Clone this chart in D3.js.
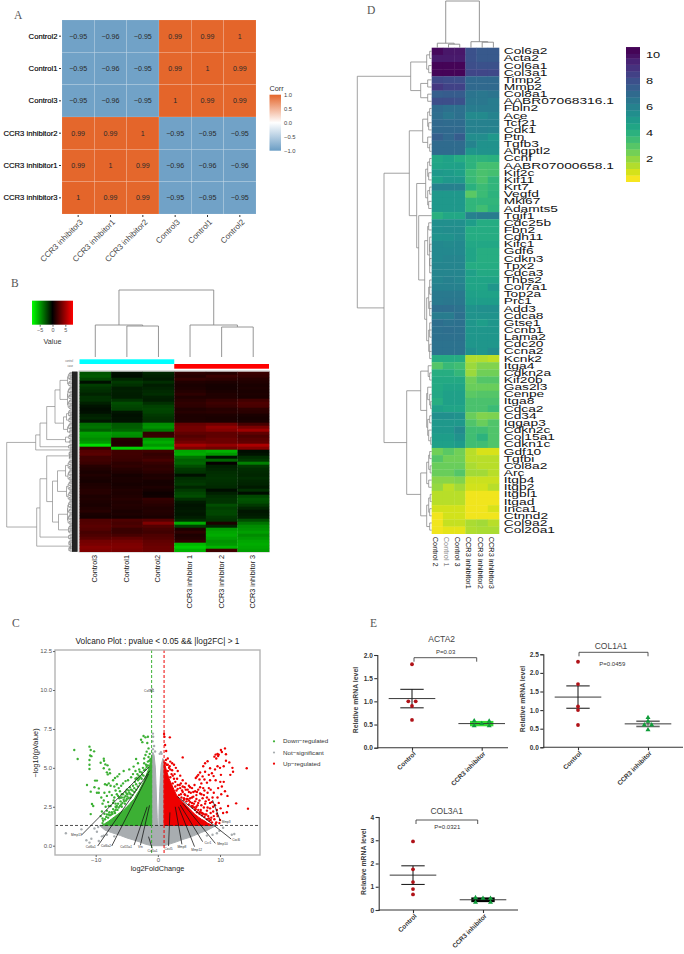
<!DOCTYPE html>
<html>
<head>
<meta charset="utf-8">
<script src="https://cdn.jsdelivr.net/npm/d3@7"></script>
<style>
  body { margin: 0; background: #fff; }
  text { font-family: "Liberation Sans", Arial, sans-serif; }
</style>
</head>
<body>
<svg id="svg" width="684" height="954"></svg>
<script>
// ---------- panel A data ----------
const corrRows = ["Control2", "Control1", "Control3", "CCR3 inhibitor2", "CCR3 inhibitor1", "CCR3 inhibitor3"];
const corrCols = ["CCR3 inhibitor3", "CCR3 inhibitor1", "CCR3 inhibitor2", "Control3", "Control1", "Control2"];
const corrValues = [
  [-0.95, -0.96, -0.95, 0.99, 0.99, 1],
  [-0.95, -0.96, -0.95, 0.99, 1, 0.99],
  [-0.95, -0.96, -0.95, 1, 0.99, 0.99],
  [0.99, 0.99, 1, -0.95, -0.95, -0.95],
  [0.99, 1, 0.99, -0.96, -0.96, -0.96],
  [1, 0.99, 0.99, -0.95, -0.95, -0.95]
];
const corrTicks = [-1, -0.5, 0, 0.5, 1];

// ---------- panel B data ----------
const exprCols = ["Control3", "Control1", "Control2", "CCR3 inhibitor 1", "CCR3 inhibitor 2", "CCR3 inhibitor 3"];
const exprValues = [
  [-2.6,-0.5,-1.2,1.4,1.2,1.8],[-2.8,-0.4,-1.0,1.2,1.8,1.6],[-2.2,-1.2,-0.8,1.6,1.4,1.2],[-0.5,-1.8,-1.4,1.0,0.9,1.0],
  [-1.9,-1.5,-0.9,0.8,0.7,0.8],[-1.6,-0.9,-1.1,0.9,0.7,0.9],[-1.4,-1.0,-1.3,1.1,0.8,0.8],[-1.1,-0.9,-1.4,1.4,1.0,0.9],
  [-1.5,-0.9,-1.0,1.0,1.0,0.8],[-1.5,-1.6,-0.9,1.3,1.6,2.0],[-1.0,-2.4,-1.5,1.5,1.9,2.4],[-0.6,-2.2,-2.0,1.4,1.7,2.3],
  [-0.4,-2.0,-2.2,1.0,1.2,1.4],[-0.5,-0.7,-2.1,1.2,1.3,1.3],[-1.0,-0.5,-1.8,0.9,0.9,0.8],[-1.2,-0.6,-1.6,0.9,0.8,0.7],
  [-0.7,-0.6,-1.5,1.0,0.9,0.8],[-3.4,-2.8,-4.4,3.2,3.5,2.2],[-3.6,-2.9,-4.6,3.6,4.6,3.8],[-3.0,-3.2,-3.8,3.6,4.2,5.0],
  [-5.0,-4.6,1.6,3.0,3.0,3.0],[-4.8,-4.4,1.8,2.6,3.0,2.4],[-4.4,1.2,-4.8,3.0,3.4,2.8],[-4.8,1.0,-5.4,3.6,3.4,3.0],
  [-7.0,1.1,-4.8,5.2,4.6,5.4],[1.8,-6.6,-6.0,4.0,3.6,4.2],[2.6,2.0,2.0,-5.2,-5.6,-0.4],[2.8,2.0,1.6,-5.4,-4.8,-0.6],
  [2.0,1.9,1.8,-3.6,-0.6,-1.4],[2.0,1.8,2.2,-3.0,-3.2,-1.8],[1.8,1.4,1.7,-3.2,0.2,-4.0],[1.2,1.5,1.4,-2.4,-1.0,-1.8],
  [1.0,1.2,1.5,-1.8,-1.2,-1.4],[0.8,1.0,1.3,-1.6,-1.4,-1.3],[1.0,0.7,0.9,-0.5,-1.5,-1.2],[0.8,0.8,1.0,-1.4,-1.6,-1.4],
  [0.7,0.8,0.7,-1.6,-1.5,-1.2],[0.9,0.7,0.7,-1.8,-1.4,-1.1],[1.0,0.8,0.9,-1.2,-1.3,-0.8],[1.2,1.0,0.7,-1.8,-0.4,-1.5],
  [1.2,0.9,0.4,-2.2,-1.0,-0.4],[0.9,1.0,0.5,-2.4,-1.4,-2.2],[1.0,1.2,1.6,-1.5,-1.6,-2.6],[0.9,1.0,1.4,-0.8,-1.6,-2.4],
  [0.8,1.1,1.2,-0.6,-2.4,-1.8],[1.0,1.0,1.0,-0.7,-2.0,-1.2],[1.2,0.8,1.1,-0.8,-2.2,-0.7],[0.8,0.9,1.0,-0.7,-2.2,-0.8],
  [0.7,0.7,0.8,-0.9,-1.8,-1.0],[2.5,2.4,2.6,-1.4,-1.6,-2.4],[2.6,2.2,4.0,-5.4,0.9,-3.6],[2.8,2.4,2.6,-2.0,-1.2,-4.4],
  [2.6,1.8,2.2,0.9,-4.8,-4.6],[2.2,1.8,2.0,1.4,-5.2,-5.0],[2.4,2.2,2.4,0.9,-5.4,-4.4],[2.8,3.0,2.6,1.1,-5.0,-4.8],
  [3.6,3.6,3.0,1.6,-4.6,-5.2],[3.8,3.9,3.2,-5.8,-4.8,-5.4],[4.2,4.0,3.4,-6.4,-5.6,-5.2],[4.0,3.8,3.4,-5.6,2.0,-5.0]
];
const exprTicks = [-5, 0, 5];
const exprGroups = ["control", "case"];
// dendrograms: [merge height, left, right]; a plain number is a tuft of that many leaves
const exprColTree = [67, [32, 1, [31, 1, 1]], [32, 1, [30, 1, 1]]];
const exprRowTree = [70.8,
  [41.8,
    [37.5,
      [30.8,
        [22.5, [17.5, 30, [10, 25, 20]], [14, [11, 15, 12], [10, 14, 8]]],
        [12, 12, 8]],
      [9, 6, 4]],
    4],
  [40.8,
    [37.5,
      [30.8,
        [8, 10, 8],
        [25, [20, [12, 20, 22], [11, 20, 20]], [19, [10, 26, 22], [9, 10, 8]]]],
      [9, 6, 6]],
    [7, 12, 12]]
];

// ---------- panel C data ----------
const volcanoXTicks = [-10, 0, 10];
const volcanoYTicks = [0, 2.5, 5, 7.5, 10, 12.5];
const volcanoTypes = ["Down\u2212regulated", "Not\u2212significant", "Up\u2212regulated"];
// outlines of the solid parts of the cloud, [log2FC, -log10p]
const greenCloud = [[-1,1.3],[-1,5.8],[-1.3,5.2],[-1.6,4.8],[-2,4.4],[-2.3,4.1],[-2.7,3.8],[-3,3.55],[-3.4,3.3],[-3.8,3.0],[-4.2,2.85],[-4.6,2.65],[-5,2.5],[-5.5,2.3],[-6,2.15],[-6.5,2.0],[-7,1.85],[-7.5,1.7],[-8,1.55],[-8.6,1.4],[-9,1.3]];
const redCloud = [[1,1.3],[1,5.4],[1.4,4.8],[1.8,4.3],[2.2,3.95],[2.6,3.6],[3,3.25],[3.5,3.0],[4,2.8],[4.5,2.6],[5,2.4],[5.5,2.2],[6,2.0],[6.5,1.85],[7,1.7],[7.5,1.6],[8,1.45],[8.8,1.3]];
const grayCloud = [[-9.4,1.3],[-8.5,1.0],[-7.5,0.85],[-6,0.65],[-5,0.5],[-4,0.38],[-3,0.25],[-2,0.1],[-1,0],[1,0],[2,0.12],[3,0.25],[4,0.4],[5,0.52],[6,0.68],[7,0.85],[8,1.0],[9.4,1.3]];
const grayLobeLeft = [[-1,1.3],[-1,5.8],[-0.8,6.0],[-0.6,5.8],[-0.4,5.0],[-0.3,4],[-0.2,2.8],[-0.1,1.8],[-0.05,1.3]];
const grayLobeRight = [[0.15,1.3],[0.2,2.4],[0.3,3.5],[0.4,4.4],[0.55,5.2],[0.8,5.6],[0.95,5.5],[0.95,1.3]];
const downPoints = [
  [-13.45,6.15],[-12.9,5.57],[-11,6.36],[-10.8,6.15],[-10.26,6.06],[-10.9,5.8],[-10.7,5.75],[-11,5.5],[-11,5.2],[-11,4.93],
  [-11.4,3.9],[-10.8,3.47],[-10.6,2.68],[-10.4,2.55],[-10.8,2.03],[-10.1,4.18],[-9.8,4.18],[-10.2,3.75],[-9.5,3.68],[-9.8,3.4],
  [-9.5,3.4],[-9.2,5.33],[-8.7,5.59],[-8.66,5.46],[-8.44,5.22],[-8.1,5.16],[-8.7,4.97],[-7.8,4.9],[-8.2,4.71],[-7.7,4.65],
  [-8.06,4.58],[-8.5,3.95],[-8.2,3.9],[-7.9,4.0],[-7.6,3.85],[-7.2,4.2],[-6.9,4.35],[-6.5,4.45],[-6.2,4.6],[-7,3.8],
  [-6.6,3.95],[-6.3,3.7],[-5.9,3.85],[-5.6,4.0],[-5.2,4.15],[-5,3.6],[-8.6,3.4],[-8.2,3.2],[-7.8,3.45],[-7.4,3.25],
  [-7.0,3.1],[-6.6,3.3],[-6.2,3.05],[-5.8,3.3],[-5.4,3.1],[-4.9,3.3],[-8.9,2.7],[-8.4,2.5],[-8,2.8],[-7.6,2.55],
  [-7.2,2.75],[-6.8,2.5],[-6.4,2.7],[-9,2.2],[-8.6,2.05],[-8.2,2.25],[-7.8,2.15],[-9.2,1.9],[-8.9,1.75],[-7.4,2.15],
  [-6.8,2.3],[-5.9,2.65],[-5.4,2.85],[-5,3.0],[-4.4,3.3],[-4.1,3.55],[-3.8,3.7],[-3.5,3.95],[-4.7,3.55],[-3.2,4.2],
  [-3,4.3],[-3.3,4.6],[-3.6,4.8],[-3.9,5.08],[-3.2,5.3],[-3.5,5.57],[-2.9,4.75],[-2.6,4.7],[-2.4,5],[-2.2,5.3],
  [-2.2,5.6],[-1.99,5.83],[-1.8,6.04],[-1.5,6.25],[-1.7,6.6],[-2.5,6.65],[-2.7,6.8],[-2.3,7.05],[-2,6.96],[-1.6,7.0],
  [-1.5,5.7],[-1.3,5.9],[-1.9,5.2],[-1.6,5.4],[-5.5,4.8],[-4.6,4.9],[-6.8,3.55],[-5.2,3.45],
  [-8.8,1.6],[-8.5,1.7],[-8.3,1.85],[-8,1.8],[-7.9,2.0],[-7.7,1.95],[-7.5,2.0],[-7.3,2.05],[-7.2,2.35],[-7,2.2],
  [-6.9,2.1],[-6.7,2.45],[-6.5,2.3],[-6.3,2.45],[-6.1,2.55],[-6,2.85],[-5.8,2.5],[-5.7,2.75],[-5.5,2.95],[-5.3,2.7],
  [-5.2,3.2],[-5.1,2.9],[-4.9,3.15],[-4.7,3.05],[-4.6,3.4],[-4.4,3.1],[-4.3,3.6],[-4.1,3.25],[-4,3.85],[-3.8,3.45],
  [-3.7,4.1],[-3.5,3.6],[-3.4,4.35],[-3.2,3.8],[-3.1,4.5],[-2.9,4.0],[-2.8,4.4],[-2.6,4.3],[-2.5,4.55],[-2.3,4.5],
  [-2.2,4.85],[-2,4.9],[-1.8,5.05],[-1.6,5.15],[-1.4,5.45],[-1.2,5.55],[-8.9,1.45],[-8.2,2.0],[-6.8,2.7],[-6.6,2.55],
  [-6,3.1],[-5.6,3.3],[-5,3.35],[-4.5,3.75],[-7.9,2.55],[-7.1,2.9],[-6.4,3.2],[-6.1,3.5],[-8.7,2.9],[-9.1,3.1],
  [-5.8,3.1],[-4.8,4.2],[-4.3,4.4],[-4,4.6],[-3.6,4.3],[-3,4.9]
];
const upPoints = [
  [1.0,7.17],[1.07,6.99],[1.93,6.96],[1.17,6.47],[1.34,6.08],[4.0,5.67],[10.8,6.25],[10.15,6.15],[10.3,6.02],[9.6,5.9],
  [9.3,5.85],[9.8,5.85],[9.1,5.72],[9.7,5.76],[9.4,5.6],[10.96,5.87],[10.96,5.46],[11.5,5.35],[12,5.0],[12.1,4.75],
  [11.66,4.55],[14.3,4.97],[14.5,2.38],[12.6,2.72],[11.3,2.55],[11.1,2.15],[10.5,2.1],[10,1.65],[8,5.42],[7.6,5.3],
  [7.3,5.1],[6.8,4.7],[6.5,4.55],[6.3,4.45],[6.1,4.35],[7.2,4.45],[7.6,4.75],[8.4,4.97],[8.2,4.55],[8.7,4.65],
  [8.97,4.47],[10.15,4.55],[10.6,4.1],[10.3,3.8],[10.05,4.1],[6.7,4.25],[7,4.0],[7.5,4.25],[7.9,4.05],[8.4,4.2],
  [9.2,4.9],[9.6,5.1],[10,5.0],[10.6,5.1],[9.3,4.2],[9.7,3.7],[10.8,3.5],[11.2,3.2],[10.2,3.3],[9.6,3.1],
  [9,3.4],[8.5,3.6],[8,3.4],[7.5,3.55],[7,3.3],[6.5,3.6],[6,3.5],[5.5,3.7],[5,3.85],[4.5,4.0],
  [4,4.2],[3.6,4.5],[3.2,4.8],[2.9,5.0],[2.6,5.2],[2.3,5.3],[2,5.4],[1.6,5.6],[3.5,3.9],[3.9,3.55],
  [4.3,3.3],[4.8,3.2],[5.2,3.05],[5.7,3.15],[6.2,3.0],[6.7,2.9],[7.2,3.05],[7.7,2.85],[8.2,2.95],[8.7,2.8],
  [9.2,2.6],[9.5,2.3],[8.9,2.2],[8.4,2.4],[7.9,2.25],[7.4,2.45],[6.9,2.3],[6.4,2.6],[5.9,2.45],[5.5,2.75],
  [5,2.9],[4.6,3.0],[8.6,1.8],[8.1,1.9],[7.6,2.0],[7.1,2.1],[9.1,1.7],[9.6,1.9],[8.3,1.6],[9.4,1.5],
  [6.7,2.15],[6.1,2.35],[5.6,2.55],[3.2,3.65],[2.8,4.1],[2.4,4.5],[2,4.9],[1.6,5.2],[1.3,5.5],[4.2,3.05],
  [3.7,3.3],[5.3,3.4],[6.2,3.25],[7.3,3.7],[8.8,3.1],[9.8,2.75],[10.1,2.4],[8.2,3.7],[6.8,3.75],[5.9,3.9],
  [8.7,1.5],[8.5,1.65],[8.2,1.75],[7.9,1.7],[7.8,2.0],[7.5,1.85],[7.3,2.05],[7.1,1.95],[6.9,2.15],[6.7,2.05],
  [6.5,2.3],[6.3,2.15],[6.2,2.5],[6,2.3],[5.8,2.7],[5.6,2.45],[5.4,2.55],[5.2,2.8],[5,2.65],[4.8,3.0],
  [4.6,2.85],[4.4,3.25],[4.2,2.95],[4,3.45],[3.8,3.1],[3.6,3.7],[3.4,3.25],[3.2,3.9],[3,3.55],[2.8,3.8],
  [2.6,4.3],[2.4,4.0],[2.2,4.6],[2,4.4],[1.8,5.0],[1.6,4.8],[1.4,5.2],[1.2,5.3],[9.3,1.4],[9,1.9],
  [8.5,2.1],[8,2.45],[7.6,2.7],[7,2.6],[6.5,2.75],[6,2.85],[5.5,3.1],[5,3.45],[4.5,3.6],[4,3.8],
  [9.9,1.45],[9.5,2.05],[8.9,2.5],[8.4,2.75],[7.9,3.1],[7.4,3.25],[6.8,3.35],[6.3,3.45],[5.7,3.45],[5.2,3.75],
  [4.8,3.6],[4.3,3.75],[3.7,4.0],[3.1,4.3],[2.7,4.6],[2.3,4.85],[1.9,5.1]
];
const flatPoints = [
  [-0.8,7.2],[-0.75,7.0],[-0.85,6.7],[-0.6,6.4],[-0.8,6.2],[-0.45,6.05],[0.5,6],[0.6,5.9],[0.3,5.9],[-14.8,0.8],
  [-12.3,1.05],[-11.5,0.35],[-11,0.2],[-10.7,0.45],[-9.5,0.3],[-9,0.6],[-8.7,0.65],[-9.8,0.9],[11.9,0.7],[12.3,0.75],
  [-1.1,10.0],[-0.9,10.05],[10.5,1.15],[9.9,0.95],[9.5,0.8],[-10.2,1.1],[-9.6,1.2],[-8.2,0.7],[-7,0.6],[8.8,0.7],[7.9,0.65]
];
const geneNames = ["Mmp13", "Col6a1", "Col6a2", "Col15a1", "Vtn", "Col5a1", "Cxcl5", "Mmp8", "Mmp12", "Ccr1", "Mmp10", "Cxcl6", "Mmp3"];
const geneLabelX = [-13.1, -10.8, -8.33, -5.1, -2.8, -0.86, 1.72, 3.87, 6.24, 8.06, 10.4, 12.6, 11];
const geneLabelY = [0.67, -0.06, -0.02, -0.06, -0.09, -0.32, -0.19, -0.09, -0.24, 0.19, 0.09, 0.39, 1.54];
const geneLineStart = [[-12.26,0.69],[-9.68,-0.02],[-7.42,-0.02],[-3.82,0.04],[-2.8,0.04],[-0.91,-0.17],[1.72,-0.02],[3.87,0.09],[5.9,-0.06],[7.2,0.26],[9.25,0.15],[11.8,0.43],[10.05,1.6]];
const geneLineEnd = [[-1.4,5.07],[-1.29,4.82],[-1.5,4.6],[-1.72,2.5],[-1.34,2.59],[-1.5,0.58],[1.94,2.14],[2.8,2.5],[3.33,2.5],[3.6,2.61],[4.03,2.72],[3.17,3.15],[8.8,2.93]];

// ---------- panel D data ----------
const geneRows = ["Col6a2","Acta2","Col6a1","Col3a1","Timp2","Mmp2","Col8a1","AABR07068316.1","Fbln2","Ace","Tcf21","Cdk1","Ptn","Tgfb3","Angptl2","Ccnf","AABR07000658.1","Kif2c","Kif11","Krt7","Vegfd","Mki67","Adamts5","Tgif1","Cdc25b","Fbn2","Cdh11","Kifc1","Gdf6","Cdkn3","Tpx2","Cdca3","Thbs2","Col7a1","Top2a","Prc1","Add3","Cdca8","Gtse1","Ccnb1","Lama2","Cdc20","Ccna2","Kcnk2","Itga4","Cdkn2a","Kif20b","Gas2l3","Cenpe","Itga8","Cdca2","Cd34","Iqgap3","Cdkn2c","Col15a1","Cdkn1c","Gdf10","Tgfbi","Col8a2","Arc","Itgb4","Itgb2","Itgbl1","Itgad","Inca1","Ctnnd2","Col9a2","Col20a1"];
const geneCols = ["Control 2", "Control 1", "Control 3", "CCR3 inhibitor1", "CCR3 inhibitor2", "CCR3 inhibitor3"];
const geneValues = [
  [10.2,9.8,9.8,7.9,7.6,7.6],[9.7,9.7,9.7,7.9,7.6,7.6],[10.3,10.3,10.3,8.0,7.9,7.9],[10.3,10.3,10.3,8.3,8.3,8.2],
  [8.2,8.1,8.0,7.0,7.0,7.0],[8.8,8.4,8.4,7.0,7.0,7.0],[7.4,7.5,7.5,6.5,6.4,6.5],[8.0,8.0,7.9,6.4,6.4,6.2],
  [6.9,6.7,6.7,6.2,6.2,6.2],[6.8,6.4,6.7,5.6,5.6,5.9],[7.0,6.9,6.9,6.0,6.0,6.0],[7.0,7.0,7.0,6.0,6.0,5.9],
  [7.4,7.0,7.5,5.5,5.5,5.0],[6.9,6.9,6.9,5.9,5.3,5.3],[6.9,6.9,6.9,5.1,5.2,5.2],[4.4,4.6,4.2,3.9,3.9,4.0],
  [4.5,4.6,4.7,3.9,3.3,3.3],[5.0,4.9,4.7,3.5,3.2,3.3],[4.7,5.0,5.0,3.6,3.2,3.8],[6.0,6.0,6.0,4.0,3.5,3.8],
  [5.0,5.0,5.0,2.9,3.5,3.9],[5.0,5.0,5.0,3.8,3.8,3.8],[5.0,5.0,5.0,3.8,3.4,3.9],[4.0,4.4,4.4,6.0,6.2,6.2],
  [5.4,5.4,5.4,4.8,4.2,4.2],[5.4,5.5,5.5,4.2,4.2,4.2],[5.2,5.3,5.5,4.2,4.2,4.2],[5.7,5.6,5.7,4.4,4.4,4.4],
  [5.7,5.7,5.7,4.5,4.1,4.1],[5.7,5.8,5.8,4.5,4.1,4.1],[5.8,5.8,5.8,4.2,4.2,4.2],[5.8,5.8,5.8,4.7,4.3,4.3],
  [5.8,6.0,5.8,4.5,4.5,4.5],[6.0,6.0,6.0,4.5,4.5,5.1],[6.3,6.3,6.3,4.7,4.6,4.6],[6.3,6.4,6.4,4.8,4.8,4.8],
  [6.8,6.8,6.6,5.3,5.4,5.4],[6.2,6.2,6.7,5.2,5.2,5.2],[6.8,6.6,6.7,5.1,4.8,5.1],[6.7,6.8,6.7,5.1,5.1,5.1],
  [6.7,6.7,6.7,5.1,5.1,5.1],[6.6,6.6,6.6,5.1,5.1,5.1],[6.6,6.6,6.6,5.4,5.1,5.5],[4.2,4.2,4.2,1.5,1.5,1.3],
  [3.0,3.6,3.4,1.8,2.2,2.2],[4.1,4.1,3.7,1.8,2.5,2.5],[4.3,4.3,4.3,2.5,3.0,3.0],[4.3,4.5,4.5,2.6,2.6,2.6],
  [4.4,4.7,4.7,2.9,3.0,3.0],[4.1,4.7,4.7,3.2,3.2,3.2],[4.7,4.5,4.5,3.2,3.2,3.5],[5.4,5.4,5.3,2.6,2.2,2.3],
  [5.0,5.0,5.0,3.1,2.6,3.1],[5.0,5.0,5.6,3.4,3.4,3.1],[4.8,4.8,5.3,3.4,3.9,3.1],[4.7,4.7,4.9,3.4,3.4,3.1],
  [2.5,2.9,2.5,1.4,0.9,0.9],[3.0,2.5,2.5,1.4,1.4,1.4],[2.6,2.6,2.6,1.6,1.4,1.4],[2.6,2.6,3.0,1.7,1.7,1.4],
  [2.1,2.1,2.2,1.1,1.1,1.1],[1.9,1.3,1.7,1.0,1.0,1.4],[1.4,1.4,1.4,0.5,0.5,0.5],[1.4,1.4,1.4,0.5,0.5,0.5],
  [1.0,1.0,1.0,0.5,0.5,0.9],[0.5,1.0,1.0,0.5,0.5,0.5],[0.5,1.2,1.2,1.6,1.7,1.4],[0.5,0.7,0.7,1.5,1.6,1.6]
];
const geneColorTicks = [2, 4, 6, 8, 10];
const geneColorLevels = [0.45,0.95,1.45,1.95,2.45,2.95,3.45,3.95,4.45,4.95,5.45,5.95,6.45,6.95,7.45,7.95,8.45,8.95,9.45,9.95,10.3];
const geneColTree = [46.7, [4.5, 1, [3.5, 1, 1]], [6, 1, [5.5, 1, 1]]];
const geneRowTree = [74.4,
  [21,
    [5, [2, 1, 1], [3, 1, 1]],
    [11, [4, 1, 1], [4, 1, 1]]],
  [47.7,
    [22.4,
      [9, [4, [2, 1, 1], [3, 1, 1]], [4, 1, [2, 1, 1]]],
      [15,
        [6, [4, [2, 1, 1], [3, 1, 1]], [4, [2, 1, 1], [3, 1, 1]]],
        [13, 1,
          [7, [4, [3, 1, 1], [2, 3, 3]], [5, [3, 3, 3], [3, 3, 3]]]]]],
    [25,
      [11,
        [3.5, 1, [2, 1, 1]],
        [5, [4, 1, [2, 1, [1, 1, 1]]], [4, [2, 1, 1], [3, 1, [1, 1, 1]]]]],
      [11,
        [5, [3, [2, 1, 1], [1.5, 1, 1]], [3, 1, 1]],
        [5, [3, [1.5, 1, 1], [2, 1, 1]], [2, 1, 1]]]]]
];

// ---------- panel E data ----------
const qpcrGroups = ["Control", "CCR3 inhibitor"];
const actaControl = [1.8, 1.0, 1.0, 0.9, 0.6];
const actaInhibitor = [0.58, 0.57, 0.52, 0.47, 0.47];
const colOneControl = [2.3, 1.7, 1.1, 1.0, 0.6];
const colOneInhibitor = [0.8, 0.7, 0.6, 0.6, 0.47];
const colThreeControl = [2.95, 1.75, 1.2, 0.9, 0.67];
const colThreeInhibitor = [0.53, 0.5, 0.5, 0.33, 0.33];
const actaMeans = [1.06, 0.52], actaErrors = [0.2, 0.03];
const colOneMeans = [1.35, 0.63], colOneErrors = [0.3, 0.07];
const colThreeMeans = [1.5, 0.44], colThreeErrors = [0.4, 0.05];

const svg = d3.select("#svg");
const defs = svg.append("defs");

// panel letters
const letters = [["A", 14, 19], ["B", 11, 287], ["C", 12, 627], ["D", 367, 14], ["E", 370, 627]];
svg.selectAll("text.letter").data(letters).join("text")
  .attr("class", "letter")
  .attr("x", d => d[1]).attr("y", d => d[2])
  .style("font-family", "'Liberation Serif', serif")
  .style("font-size", "11.5px").attr("fill", "#555").text(d => d[0]);

// draws a dendrogram; sideways = tree on the left of a heatmap
function drawTree(tree, posScale, hScale, sideways, tuftH, group, branchColor, branchWidth, fineTufts) {
  const segs = [], leaves = [];
  let next = 0;
  function merge(a, b, h) {
    segs.push([a.h, a.pos, h, a.pos]);
    segs.push([b.h, b.pos, h, b.pos]);
    segs.push([h, a.pos, h, b.pos]);
    return { pos: (a.pos + b.pos) / 2, h };
  }
  function visit(node) {
    if (typeof node === "number") {
      if (node === 1 && !fineTufts) {
        const p = posScale(next + 0.5);
        next += 1;
        return { pos: p, h: 0 };
      }
      if (fineTufts && node > 3) {
        // big tufts are split further so that they read as a fine comb
        const m = Math.ceil(node * 0.55);
        const a = visit(m), b = visit(node - m);
        return merge(a, b, tuftH + Math.log2(node) * 0.9);
      }
      const first = next;
      for (let i = 0; i < node; i++) leaves.push(next++);
      segs.push([tuftH, posScale(first + 0.5), tuftH, posScale(next - 0.5)]);
      return { pos: posScale((first + next) / 2), h: tuftH };
    }
    return merge(visit(node[1]), visit(node[2]), node[0]);
  }
  visit(tree);
  const place = s => sideways
    ? `M${hScale(s[0])},${s[1]}L${hScale(s[2])},${s[3]}`
    : `M${s[1]},${hScale(s[0])}L${s[3]},${hScale(s[2])}`;
  group.append("g").selectAll("path").data(segs).join("path")
    .attr("d", place).attr("fill", "none")
    .attr("stroke", branchColor).attr("stroke-width", branchWidth);
  group.append("g").selectAll("path").data(leaves).join("path")
    .attr("d", i => place([0, posScale(i + 0.5), tuftH, posScale(i + 0.5)]))
    .attr("stroke", fineTufts ? "#000" : branchColor)
    .attr("stroke-width", fineTufts ? 0.7 : branchWidth);
}

// ========== A: correlation heatmap ==========
const gA = svg.append("g");
const xA = d3.scaleBand().domain(corrCols).range([62, 256]);
const yA = d3.scaleBand().domain(corrRows).range([20, 214]);
const corrColor = d3.scaleLinear().domain([-1, 0, 1]).range(["#6a9dc4", "#ffffff", "#e4652a"]);
const corrCells = corrValues.flatMap((row, i) => row.map((v, j) => ({ r: corrRows[i], c: corrCols[j], v })));
gA.selectAll("rect").data(corrCells).join("rect")
  .attr("x", d => xA(d.c)).attr("y", d => yA(d.r))
  .attr("width", xA.bandwidth()).attr("height", yA.bandwidth())
  .attr("fill", d => corrColor(d.v))
  .attr("stroke", "#fff").attr("stroke-opacity", 0.18).attr("stroke-width", 0.6);
gA.selectAll("text.val").data(corrCells).join("text")
  .attr("class", "val")
  .attr("x", d => xA(d.c) + xA.bandwidth() / 2)
  .attr("y", d => yA(d.r) + yA.bandwidth() / 2 + 2.5)
  .attr("text-anchor", "middle").style("font-size", "7.1px").attr("fill", "#2a2a2a")
  .text(d => String(d.v).replace("-", "\u2212"));
const axisLA = gA.append("g").attr("transform", "translate(61,0)")
  .call(d3.axisLeft(yA).tickSize(2).tickPadding(1.5));
axisLA.select(".domain").remove();
axisLA.selectAll("line").attr("stroke", "#333");
axisLA.selectAll("text").style("font-size", "7.65px").attr("fill", "#000")
  .attr("stroke", "#000").attr("stroke-width", 0.15);
const axisBA = gA.append("g").attr("transform", "translate(0,215)")
  .call(d3.axisBottom(xA).tickSize(2));
axisBA.select(".domain").remove();
axisBA.selectAll("line").attr("stroke", "#333");
axisBA.selectAll("text").style("font-size", "8px").attr("fill", "#444")
  .attr("text-anchor", "end").attr("transform", "rotate(-45)").attr("dx", "-0.2em").attr("dy", "0.5em");

// colour legend for A
const gradA = defs.append("linearGradient").attr("id", "gradA").attr("x1", 0).attr("x2", 0).attr("y1", 1).attr("y2", 0);
gradA.selectAll("stop").data(corrTicks).join("stop")
  .attr("offset", d => (d + 1) / 2).attr("stop-color", d => corrColor(d));
const legA = d3.scaleLinear().domain([-1, 1]).range([150.7, 94.7]);
gA.append("rect").attr("x", 269.5).attr("y", 94.7).attr("width", 11.5).attr("height", 56).attr("fill", "url(#gradA)");
gA.append("text").attr("x", 269.5).attr("y", 90.5).style("font-size", "7.3px").attr("fill", "#333").text("Corr");
gA.selectAll("text.leg").data(corrTicks).join("text")
  .attr("class", "leg").attr("x", 284).attr("y", d => legA(d) + 2)
  .style("font-size", "5.8px").attr("fill", "#444")
  .text(d => d3.format(".1f")(d).replace("-", "\u2212"));

// ========== B: expression heatmap ==========
const gB = svg.append("g");
const xB = d3.scaleBand().domain(d3.range(exprCols.length)).range([79.5, 269]);
const yB = d3.scaleBand().domain(d3.range(exprValues.length)).range([371.7, 551.7]);
const exprColor = d3.scaleLinear().domain([-8, 0, 8]).range(["#00ff00", "#000000", "#ff0000"]);
gB.append("rect").attr("x", 79).attr("y", 371).attr("width", 190.5).attr("height", 181)
  .attr("fill", "none").attr("stroke", "#aaa").attr("stroke-width", 0.7);
exprValues.forEach((row, i) => {
  gB.append("g").selectAll("rect").data(row).join("rect")
    .attr("x", (d, j) => xB(j)).attr("y", yB(i))
    .attr("width", xB.bandwidth() + 0.3).attr("height", yB.bandwidth() + 0.3)
    .attr("fill", d => exprColor(d));
});
// group colour bars
gB.append("g").selectAll("rect").data(exprGroups).join("rect")
  .attr("x", (d, i) => i === 0 ? xB(0) : xB(3))
  .attr("y", (d, i) => 359.3 + i * 4.7)
  .attr("width", xB.bandwidth() * 3).attr("height", 4.7)
  .attr("fill", (d, i) => i === 0 ? "#00ffff" : "#ff0000");
gB.append("g").selectAll("text").data(exprGroups).join("text")
  .attr("x", 73).attr("y", (d, i) => 362.3 + i * 4.7).attr("text-anchor", "end")
  .style("font-size", "2.6px").attr("fill", "#666").text(d => d);
gB.append("g").selectAll("text").data(exprCols).join("text")
  .attr("transform", (d, i) => `translate(${xB(i) + xB.bandwidth() / 2 + 2},555) rotate(-90)`)
  .attr("text-anchor", "end").style("font-size", "7.3px").attr("fill", "#111").text(d => d);

drawTree(exprColTree, d3.scaleLinear().domain([0, 6]).range([79.5, 269]),
  d3.scaleLinear().domain([0, 67]).range([357, 290]), false, 0, gB, "#8a8a8a", 0.9, false);
drawTree(exprRowTree, d3.scaleLinear().domain([0, 360]).range([371.7, 551.7]),
  d3.scaleLinear().domain([0, 70.8]).range([77.5, 6.7]), true, 5.5, gB, "#8a8a8a", 0.7, true);

// colour key
const gradB = defs.append("linearGradient").attr("id", "gradB");
gradB.selectAll("stop").data([-8, 0, 8]).join("stop")
  .attr("offset", d => (d + 8) / 16).attr("stop-color", d => exprColor(d));
gB.append("rect").attr("x", 32).attr("y", 300.7).attr("width", 41).attr("height", 24).attr("fill", "url(#gradB)");
const keyB = d3.scaleLinear().domain([-8, 8]).range([32, 73]);
const keyAxis = gB.append("g").attr("transform", "translate(0,324.7)")
  .call(d3.axisBottom(keyB).tickValues(exprTicks).tickSize(2).tickPadding(1).tickFormat(d => String(d).replace("-", "\u2212")));
keyAxis.select(".domain").remove();
keyAxis.selectAll("line").attr("stroke", "#666");
keyAxis.selectAll("text").style("font-size", "5.4px").attr("fill", "#555");
gB.append("text").attr("x", 52.5).attr("y", 344).attr("text-anchor", "middle")
  .style("font-size", "7.2px").attr("fill", "#333").text("Value");

// ========== C: volcano plot ==========
const gC = svg.append("g");
const xC = d3.scaleLinear().domain([-10, 10]).range([95.7, 220]);
const yC = d3.scaleLinear().domain([0, 10]).range([845.7, 690]);
const polyLine = d3.line().x(d => xC(d[0])).y(d => yC(d[1]));
const redDot = "#ee0000", greenDot = "#3cb034", grayDot = "#a8adb0";
const clouds = [[grayCloud, grayDot], [grayLobeLeft, grayDot], [grayLobeRight, grayDot], [greenCloud, greenDot], [redCloud, redDot]];
gC.append("g").selectAll("path").data(clouds).join("path")
  .attr("d", d => polyLine(d[0]) + "Z").attr("fill", d => d[1]).attr("stroke", d => d[1]).attr("stroke-width", 1);
const dotGroups = [[flatPoints, grayDot], [downPoints, greenDot], [upPoints, redDot]];
dotGroups.forEach(g => {
  gC.append("g").selectAll("circle").data(g[0]).join("circle")
    .attr("cx", d => xC(d[0])).attr("cy", d => yC(d[1])).attr("r", 1.2).attr("fill", g[1]);
});
gC.append("line").attr("x1", 55).attr("x2", 260).attr("y1", yC(1.3)).attr("y2", yC(1.3))
  .attr("stroke", "#222").attr("stroke-width", 0.8).attr("stroke-dasharray", "3,2");
gC.append("line").attr("x1", xC(-1)).attr("x2", xC(-1)).attr("y1", 650).attr("y2", 855)
  .attr("stroke", greenDot).attr("stroke-width", 1).attr("stroke-dasharray", "3,2");
gC.append("line").attr("x1", xC(1)).attr("x2", xC(1)).attr("y1", 650).attr("y2", 855)
  .attr("stroke", redDot).attr("stroke-width", 1).attr("stroke-dasharray", "3,2");
gC.append("g").selectAll("line").data(geneNames).join("line")
  .attr("x1", (d, i) => xC(geneLineStart[i][0])).attr("y1", (d, i) => yC(geneLineStart[i][1]))
  .attr("x2", (d, i) => xC(geneLineEnd[i][0])).attr("y2", (d, i) => yC(geneLineEnd[i][1]))
  .attr("stroke", "#111").attr("stroke-width", 0.75);
gC.append("g").selectAll("text").data(geneNames).join("text")
  .attr("x", (d, i) => xC(geneLabelX[i])).attr("y", (d, i) => yC(geneLabelY[i]) + 1.1)
  .attr("text-anchor", "middle").style("font-size", "3.2px").attr("fill", "#333").text(d => d);
gC.append("text").attr("x", xC(-1.4)).attr("y", yC(9.9)).attr("text-anchor", "middle")
  .style("font-size", "3.2px").attr("fill", "#333").text("Col5a1");
gC.append("rect").attr("x", 55).attr("y", 650).attr("width", 205).attr("height", 205)
  .attr("fill", "none").attr("stroke", "#b4b4b4").attr("stroke-width", 1.4);
const axisXC = gC.append("g").attr("transform", "translate(0,855)")
  .call(d3.axisBottom(xC).tickValues(volcanoXTicks).tickSize(2).tickPadding(1).tickFormat(d => String(d).replace("-", "\u2212")));
const axisYC = gC.append("g").attr("transform", "translate(55,0)")
  .call(d3.axisLeft(yC).tickValues(volcanoYTicks).tickSize(2).tickPadding(1).tickFormat(d3.format(".1f")));
[axisXC, axisYC].forEach(a => {
  a.select(".domain").remove();
  a.selectAll("line").attr("stroke", "#666");
  a.selectAll("text").style("font-size", "6px").attr("fill", "#555");
});
gC.append("text").attr("x", 157.5).attr("y", 644).attr("text-anchor", "middle")
  .style("font-size", "8.3px").attr("fill", "#222").text("Volcano Plot : pvalue < 0.05 && |log2FC| > 1");
gC.append("text").attr("x", 157.5).attr("y", 871).attr("text-anchor", "middle")
  .style("font-size", "7.3px").attr("fill", "#222").text("log2FoldChange");
gC.append("text").attr("transform", "translate(38,753) rotate(-90)").attr("text-anchor", "middle")
  .style("font-size", "7.3px").attr("fill", "#222").text("\u2212log10(pValue)");
const legColors = [greenDot, grayDot, redDot];
const legY = d3.scalePoint().domain(volcanoTypes).range([741.3, 763.7]);
gC.append("g").selectAll("circle").data(volcanoTypes).join("circle")
  .attr("cx", 274).attr("cy", d => legY(d)).attr("r", 1.1).attr("fill", (d, i) => legColors[i]);
gC.append("g").selectAll("text").data(volcanoTypes).join("text")
  .attr("x", 283).attr("y", d => legY(d) + 2).style("font-size", "6.2px").attr("fill", "#333").text(d => d);

// ========== D: gene heatmap ==========
const gD = svg.append("g");
const xD = d3.scaleBand().domain(d3.range(geneCols.length)).range([431.7, 499]);
const yD = d3.scaleBand().domain(geneRows).range([47.7, 533.7]);
const geneColor = v => d3.interpolateViridis((10.4 - v) / 10.1);
geneValues.forEach((row, i) => {
  gD.append("g").selectAll("rect").data(row).join("rect")
    .attr("x", (d, j) => xD(j)).attr("y", yD(geneRows[i]))
    .attr("width", xD.bandwidth() + 0.3).attr("height", yD.bandwidth() + 0.3)
    .attr("fill", d => geneColor(d));
});
gD.append("g").selectAll("text").data(geneRows).join("text")
  .attr("transform", d => `translate(503.7,${yD(d) + yD.bandwidth() / 2 + 3}) scale(1.62,1)`)
  .style("font-size", "8.5px").attr("fill", "#111").text(d => d);
gD.append("g").selectAll("text").data(geneCols).join("text")
  .attr("transform", (d, i) => `translate(${xD(i) + xD.bandwidth() / 2 - 4.5},536.7) rotate(90)`)
  .style("font-size", "7.4px").attr("fill", d => d === "Control 1" ? "#888" : "#111").text(d => d);
drawTree(geneColTree, d3.scaleLinear().domain([0, 6]).range([431.7, 499]),
  d3.scaleLinear().domain([0, 46.7]).range([47.7, 1]), false, 0, gD, "#888", 0.9, false);
drawTree(geneRowTree, d3.scaleLinear().domain([0, 68]).range([47.7, 533.7]),
  d3.scaleLinear().domain([0, 74.4]).range([431.7, 357.3]), true, 2, gD, "#8a8a8a", 0.8, false);
// colour bar
const barD = d3.scaleLinear().domain([0.2, 10.5]).range([181.7, 47.7]);
gD.append("g").selectAll("rect").data(geneColorLevels).join("rect")
  .attr("x", 626).attr("width", 14)
  .attr("y", d => barD(d + 0.25)).attr("height", d => barD(d - 0.25) - barD(d + 0.25) + 0.3)
  .attr("fill", d => geneColor(d));
gD.append("g").selectAll("text").data(geneColorTicks).join("text")
  .attr("transform", d => `translate(646,${barD(d) + 3.5}) scale(1.35,1)`)
  .style("font-size", "9.5px").attr("fill", "#111").text(d => d);

// ========== E: qPCR dot plots ==========
function drawQpcr(o) {
  const g = svg.append("g");
  const x = d3.scalePoint().domain(qpcrGroups).range([o.x0, o.x1]);
  const y = d3.scaleLinear().domain([0, o.yMax]).range([o.bottom, o.top]);
  const left = g.append("g").attr("transform", `translate(${o.axisX},0)`)
    .call(d3.axisLeft(y).tickValues(o.ticks).tickSize(3).tickPadding(1.5).tickFormat(o.format));
  const bottom = g.append("g").attr("transform", `translate(0,${o.bottom})`)
    .call(d3.axisBottom(x).tickSize(3).tickPadding(1.5));
  bottom.select(".domain").attr("d", `M${o.axisX},0H${o.axisEnd}`);
  [left, bottom].forEach(a => {
    a.selectAll(".domain,line").attr("stroke", "#333").attr("stroke-width", 1.1);
    a.selectAll("text").style("font-size", "6.5px").style("font-weight", "bold").attr("fill", "#333");
  });
  bottom.selectAll("text").attr("text-anchor", "end").attr("transform", "rotate(-45)").attr("dx", "-0.3em").attr("dy", "0.4em");
  g.append("text").attr("transform", `translate(${o.labelX},${o.labelY}) rotate(-90)`).attr("text-anchor", "middle")
    .style("font-size", "6.9px").style("font-weight", "bold").attr("fill", "#444").text("Relative mRNA level");
  g.append("text").attr("x", o.titleX).attr("y", o.titleY).attr("text-anchor", "middle")
    .style("font-size", "8.5px").attr("fill", "#444").text(o.title);
  // mean and error bars
  qpcrGroups.forEach((grp, i) => {
    const cx = x(grp), m = o.means[i], e = o.errors[i];
    const capColor = i === 1 ? o.capColor : "#111", capW = i === 1 ? o.capWidth : 1;
    g.append("line").attr("x1", cx).attr("x2", cx).attr("y1", y(m - e)).attr("y2", y(m + e)).attr("stroke", capColor).attr("stroke-width", 1);
    [m - e, m + e].forEach(v => {
      g.append("line").attr("x1", cx - 11.7).attr("x2", cx + 11.7).attr("y1", y(v)).attr("y2", y(v))
        .attr("stroke", capColor).attr("stroke-width", capW);
    });
    g.append("line").attr("x1", cx - 23.3).attr("x2", cx + 23.3).attr("y1", y(m)).attr("y2", y(m))
      .attr("stroke", "#222").attr("stroke-width", 0.9);
  });
  g.append("g").selectAll("circle").data(o.control).join("circle")
    .attr("cx", (d, i) => x(qpcrGroups[0]) + o.spreadC[i]).attr("cy", d => y(d)).attr("r", 1.9).attr("fill", "#b01218");
  g.append("g").selectAll("path").data(o.inhibitor).join("path")
    .attr("transform", (d, i) => `translate(${x(qpcrGroups[1]) + o.spreadI[i]},${y(d)})`)
    .attr("d", d3.symbol(d3.symbolTriangle, 11)).attr("fill", "#0f9d3a");
  // significance bracket
  g.append("path").attr("d", `M${o.brX0},${o.brY + 4}V${o.brY}H${o.brX1}V${o.brY + 4}`)
    .attr("fill", "none").attr("stroke", "#444").attr("stroke-width", 0.9);
  g.append("text").attr("x", o.pX).attr("y", o.pY).attr("text-anchor", "middle")
    .style("font-size", "6px").attr("fill", "#333").text(o.p);
}
const oneDecimal = d3.format(".1f");
drawQpcr({ title: "ACTA2", means: actaMeans, errors: actaErrors, control: actaControl, inhibitor: actaInhibitor,
  spreadC: [0, -3.7, 3.7, 0, 0], spreadI: [-7.5, 7.5, 0, -7.5, 7.5], yMax: 2, ticks: [0, 0.5, 1, 1.5, 2], format: oneDecimal,
  x0: 412, x1: 481.7, top: 655, bottom: 747.7, axisX: 377.3, axisEnd: 508, labelX: 358, labelY: 700, titleX: 441.7, titleY: 642,
  brX0: 414, brX1: 476.7, brY: 657.7, pX: 445.7, pY: 654, p: "P=0.03", capColor: "#33dd33", capWidth: 2.6 });
drawQpcr({ title: "COL1A1", means: colOneMeans, errors: colOneErrors, control: colOneControl, inhibitor: colOneInhibitor,
  spreadC: [0, 0, 0, 0, 0], spreadI: [0, 0, -3.7, 3.7, 0], yMax: 2.5, ticks: [0, 0.5, 1, 1.5, 2, 2.5], format: oneDecimal,
  x0: 578, x1: 648, top: 654.3, bottom: 747.3, axisX: 543.3, axisEnd: 683, labelX: 524.5, labelY: 699, titleX: 611, titleY: 649,
  brX0: 579, brX1: 648, brY: 652.3, pX: 612.3, pY: 666, p: "P=0.0459", capColor: "#666", capWidth: 1.6 });
drawQpcr({ title: "COL3A1", means: colThreeMeans, errors: colThreeErrors, control: colThreeControl, inhibitor: colThreeInhibitor,
  spreadC: [0, 0, 0, 0, 0], spreadI: [-7.5, 7.5, 0, -7.5, 7.5], yMax: 4, ticks: [0, 1, 2, 3, 4], format: d3.format("d"),
  x0: 413, x1: 483, top: 817, bottom: 910, axisX: 378.7, axisEnd: 518, labelX: 365.5, labelY: 861.7, titleX: 446.7, titleY: 814,
  brX0: 416, brX1: 477.7, brY: 820, pX: 447.3, pY: 828.5, p: "P=0.0321", capColor: "#000", capWidth: 2.4 });
</script>
</body>
</html>
